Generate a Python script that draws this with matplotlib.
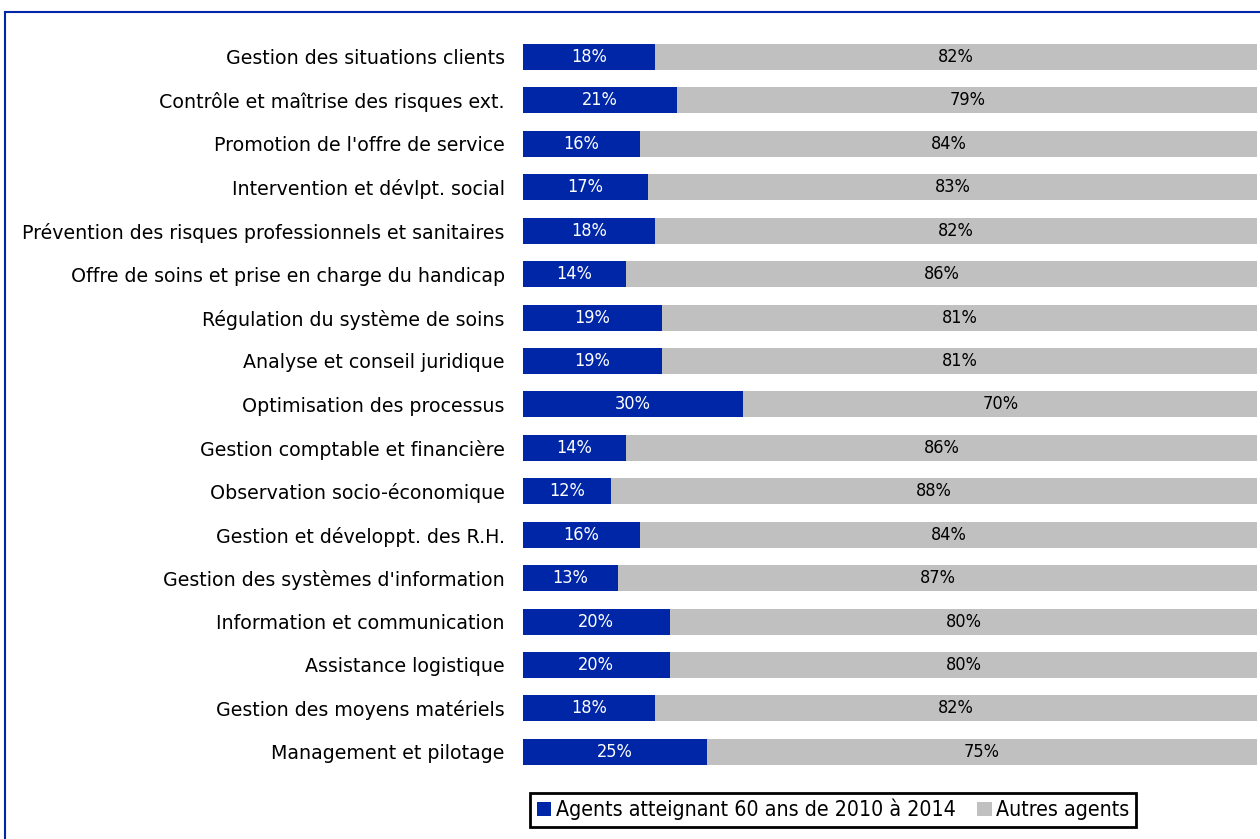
import matplotlib.pyplot as plt
from matplotlib.patches import Rectangle

# Data
categories = [
    "Gestion des situations clients",
    "Contrôle et maîtrise des risques ext.",
    "Promotion de l'offre de service",
    "Intervention et dévlpt. social",
    "Prévention des risques professionnels et sanitaires",
    "Offre de soins et prise en charge du handicap",
    "Régulation du système de soins",
    "Analyse et conseil juridique",
    "Optimisation des processus",
    "Gestion comptable et financière",
    "Observation socio-économique",
    "Gestion et développt. des R.H.",
    "Gestion des systèmes d'information",
    "Information et communication",
    "Assistance logistique",
    "Gestion des moyens matériels",
    "Management et pilotage",
]
agents_60 = [18, 21, 16, 17, 18, 14, 19, 19, 30, 14, 12, 16, 13, 20, 20, 18, 25]
autres = [82, 79, 84, 83, 82, 86, 81, 81, 70, 86, 88, 84, 87, 80, 80, 82, 75]
series_names = ["Agents atteignant 60 ans de 2010 à 2014", "Autres agents"]

blue = "#0026A8"
gray = "#C0C0C0"

plt.rcParams["font.family"] = "DejaVu Sans"

fig = plt.figure(figsize=(12.6, 8.39), dpi=100)
ax = fig.add_axes([0.415, 0.078, 0.583, 0.880])

y = list(range(len(categories)))
ax.barh(y, agents_60, height=0.6, color=blue, label=series_names[0])
ax.barh(y, autres, left=agents_60, height=0.6, color=gray, label=series_names[1])

for i in y:
    ax.text(agents_60[i] / 2, i, f"{agents_60[i]}%", ha="center", va="center",
            color="white", fontsize=13, fontstretch="condensed")
    ax.text(agents_60[i] + autres[i] / 2, i, f"{autres[i]}%", ha="center",
            va="center", color="black", fontsize=13, fontstretch="condensed")

ax.set_xlim(0, 100)
ax.set_ylim(len(categories) - 0.5, -0.5)
ax.set_yticks(y)
ax.set_yticklabels(categories, fontsize=13.7)
ax.tick_params(axis="y", length=0, pad=13)
ax.set_xticks([])
for s in ax.spines.values():
    s.set_visible(False)

leg = fig.legend(loc="center", bbox_to_anchor=(0.661, 0.035), ncol=2,
                 prop={"size": 15.3, "stretch": "condensed"}, frameon=True,
                 fancybox=False, framealpha=1,
                 handlelength=0.7, handleheight=0.7, handletextpad=0.2,
                 columnspacing=1.0, borderpad=0.3)
leg.get_frame().set_edgecolor("black")
leg.get_frame().set_linewidth(2)

# outer border
fig.patches.append(Rectangle((5 / 1260, -0.01), 1.02, 1 - 12 / 839 + 0.01,
                             transform=fig.transFigure, fill=False,
                             edgecolor=blue, linewidth=1.5))

fig.savefig("out.png", dpi=100)
